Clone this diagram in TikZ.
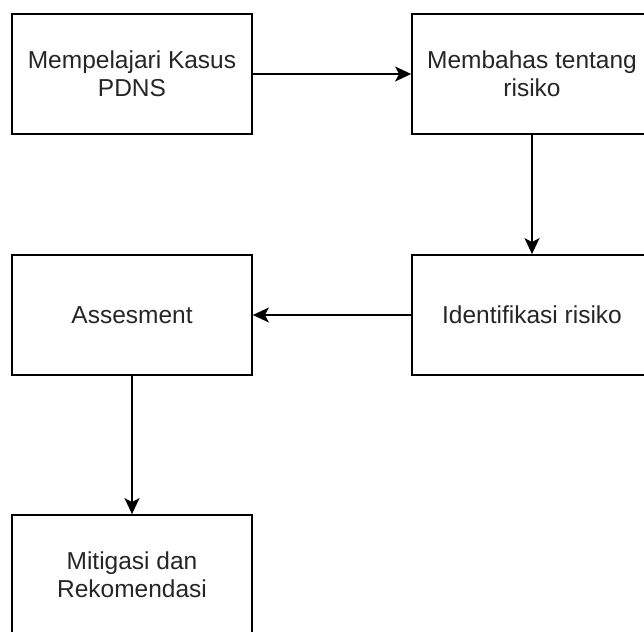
\documentclass[tikz,border=0pt]{standalone}
\usepackage{fontspec}
\setmainfont{Liberation Sans}
\usetikzlibrary{arrows.meta}
\begin{document}
\begin{tikzpicture}[x=1pt,y=-1pt,
  box/.style={draw=black, line width=1.8pt, fill=white, minimum width=240pt, minimum height=120pt, inner sep=0pt, align=center, font=\fontsize{24.5}{28}\selectfont, text=black!85},
  conn/.style={draw=black, line width=1.8pt, -{Stealth[length=16pt,width=15pt,inset=4pt]}}]
\clip (0,0) rectangle (644,631);
\fill[white] (0,0) rectangle (644,631);
\node[box] (a) at (132,74) {Mempelajari Kasus\\PDNS};
\node[box] (b) at (532,74) {Membahas tentang\\risiko};
\node[box] (c) at (132,315) {Assesment};
\node[box] (d) at (532,315) {Identifikasi risiko};
\node[box] (e) at (132,575) {Mitigasi dan\\Rekomendasi};
\draw[conn] (a) -- (b);
\draw[conn] (b) -- (d);
\draw[conn] (d) -- (c);
\draw[conn] (c) -- (e);
\end{tikzpicture}
\end{document}
